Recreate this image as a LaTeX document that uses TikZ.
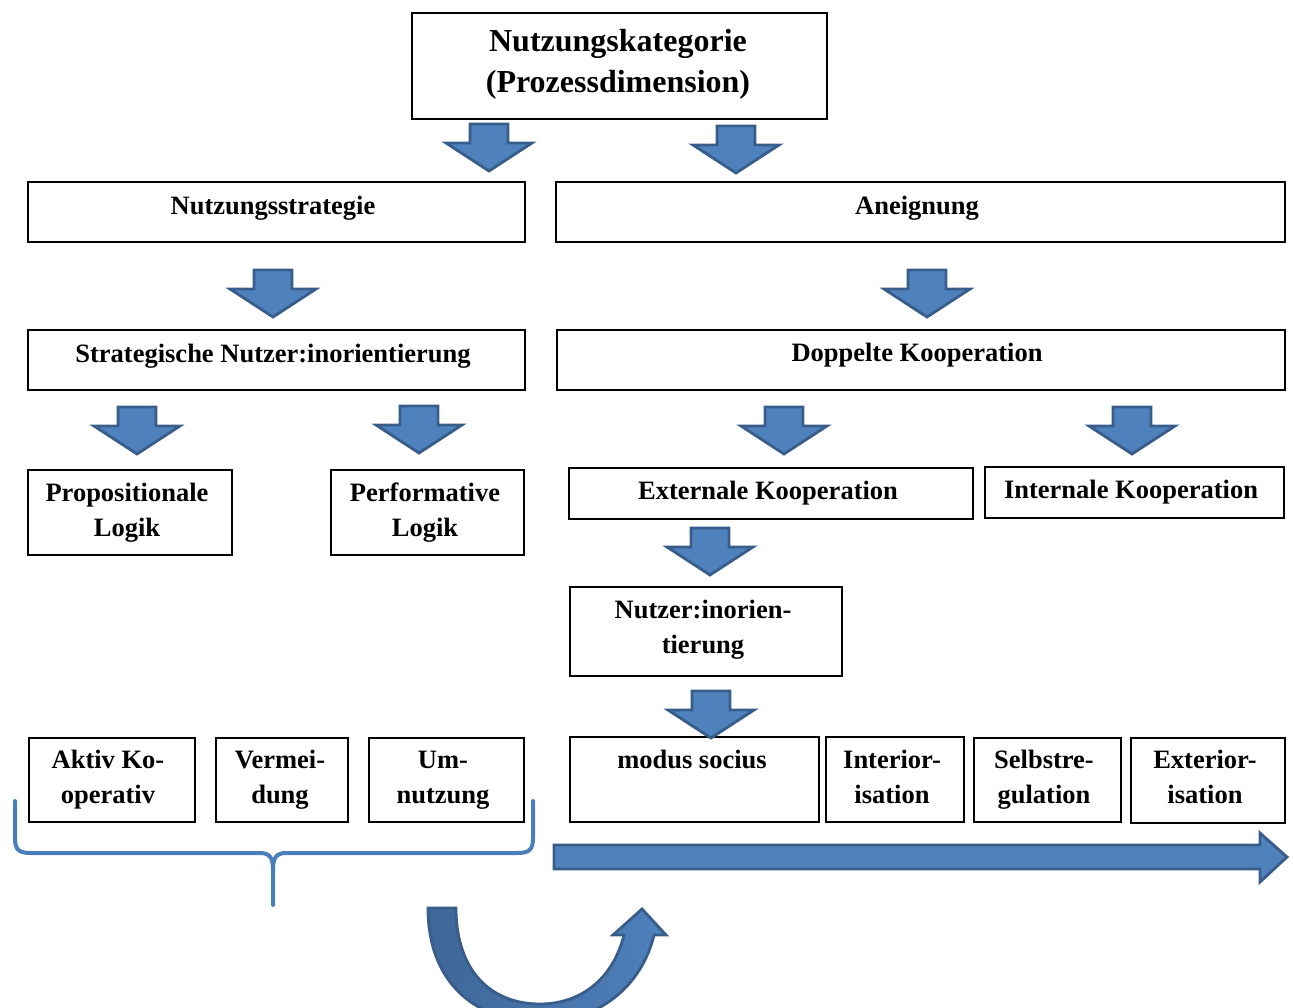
\documentclass[tikz,border=0pt]{standalone}
\usepackage{fontspec}
\setmainfont{Liberation Serif}
\begin{document}
\definecolor{officeblue}{HTML}{4F81BD}
\definecolor{officeline}{HTML}{385D8A}
\definecolor{bracecol}{HTML}{4A7EBB}
\definecolor{darkarc}{HTML}{3F6696}
\begin{tikzpicture}[x=1pt,y=-1pt,
  box/.style={draw=black,line width=1.6pt,anchor=north west,inner sep=0pt},
  lbl/.style={font=\bfseries\fontsize{26.5}{35}\selectfont,align=center,inner sep=0pt},
  blockarrow/.style={fill=officeblue,draw=officeline,line width=2.8pt,line join=miter},
  brace/.style={draw=bracecol,line width=4pt,line cap=round,line join=round},
  downarrow/.pic={\draw[blockarrow] (-19,0) -- (19,0) -- (19,19) -- (43,19) -- (0,47) -- (-43,19) -- (-19,19) -- cycle;}
]
\useasboundingbox (0,0) rectangle (1293,1008);

% boxes
\node[box,minimum width=415pt,minimum height=106pt] (kat) at (411,12) {};
\node[box,minimum width=497pt,minimum height=60pt] (strat) at (27,181) {};
\node[box,minimum width=729pt,minimum height=60pt] (aneig) at (555,181) {};
\node[box,minimum width=497pt,minimum height=60pt] (orient) at (27,329) {};
\node[box,minimum width=728pt,minimum height=60pt] (doppelt) at (556,329) {};
\node[box,minimum width=204pt,minimum height=85pt] (prop) at (27,469) {};
\node[box,minimum width=193pt,minimum height=85pt] (perf) at (330,469) {};
\node[box,minimum width=404pt,minimum height=51pt] (extern) at (568,467) {};
\node[box,minimum width=299pt,minimum height=51pt] (intern) at (984,466) {};
\node[box,minimum width=272pt,minimum height=89pt] (nutzer) at (569,586) {};
\node[box,minimum width=166pt,minimum height=84pt] (aktiv) at (28,737) {};
\node[box,minimum width=132pt,minimum height=84pt] (vermei) at (215,737) {};
\node[box,minimum width=155pt,minimum height=84pt] (um) at (368,737) {};
\node[box,minimum width=249pt,minimum height=85pt] (modus) at (569,736) {};
\node[box,minimum width=138pt,minimum height=85pt] (inter) at (825,736) {};
\node[box,minimum width=147pt,minimum height=84pt] (selbst) at (973,737) {};
\node[box,minimum width=154pt,minimum height=85pt] (exter) at (1130,737) {};

% labels
\node[lbl,font=\bfseries\fontsize{32}{41}\selectfont] (t-kat) at (618,64) {Nutzungskategorie\\(Prozessdimension)};
\node[lbl] (t-strat) at (273,208) {Nutzungsstrategie};
\node[lbl] (t-aneig) at (917,208) {Aneignung};
\node[lbl] (t-orient) at (273,356) {Strategische Nutzer:inorientierung};
\node[lbl] (t-doppelt) at (917,355) {Doppelte Kooperation};
\node[lbl] (t-prop) at (127,513) {Propositionale\\Logik};
\node[lbl] (t-perf) at (425,513) {Performative\\Logik};
\node[lbl] (t-extern) at (768,493) {Externale Kooperation};
\node[lbl] (t-intern) at (1131,492) {Internale Kooperation};
\node[lbl] (t-nutzer) at (703,630) {Nutzer:inorien-\\tierung};
\node[lbl] (t-aktiv) at (108,780) {Aktiv Ko-\\operativ};
\node[lbl] (t-vermei) at (280,780) {Vermei-\\dung};
\node[lbl] (t-um) at (443,780) {Um-\\nutzung};
\node[lbl] (t-modus) at (692,759) {modus socius};
\node[lbl] (t-inter) at (892,777) {Interior-\\isation};
\node[lbl] (t-selbst) at (1044,780) {Selbstre-\\gulation};
\node[lbl] (t-exter) at (1205,777) {Exterior-\\isation};

% down block arrows
\pic at (489,124) {downarrow};
\pic at (736,126) {downarrow};
\pic at (273,270) {downarrow};
\pic at (927,270) {downarrow};
\pic at (137,407) {downarrow};
\pic at (419,406) {downarrow};
\pic at (784,407) {downarrow};
\pic at (1132,407) {downarrow};
\pic at (710,528) {downarrow};
\pic at (711,691) {downarrow};

% brace under the three left boxes
\draw[brace] (15,801) -- (15,838) .. controls (15,850) and (19,853) .. (31,853) -- (260,853) .. controls (270,853) and (273,858) .. (273,870) -- (273,905);
\draw[brace] (273,870) .. controls (273,858) and (276,853) .. (286,853) -- (517,853) .. controls (529,853) and (533,850) .. (533,838) -- (533,801);

% long arrow to the right
\draw[blockarrow] (554,845) -- (1260,845) -- (1260,833) -- (1287,857) -- (1260,882) -- (1260,869) -- (554,869) -- cycle;

% curved arrow at the bottom
\begin{scope}
\clip (0,0) rectangle (1293,1008);
\shade[left color=darkarc,right color=officeblue,draw=officeline,line width=2.8pt,line join=miter]
  (428,908) .. controls (428,985) and (478,1022) .. (540,1022)
  .. controls (600,1022) and (642,985) .. (654,935)
  -- (666,935) -- (642,909) -- (613,935) -- (624,935)
  .. controls (612,982) and (578,1004) .. (540,1004)
  .. controls (490,1004) and (456,970) .. (456,908) -- cycle;
\end{scope}
\end{tikzpicture}
\end{document}
